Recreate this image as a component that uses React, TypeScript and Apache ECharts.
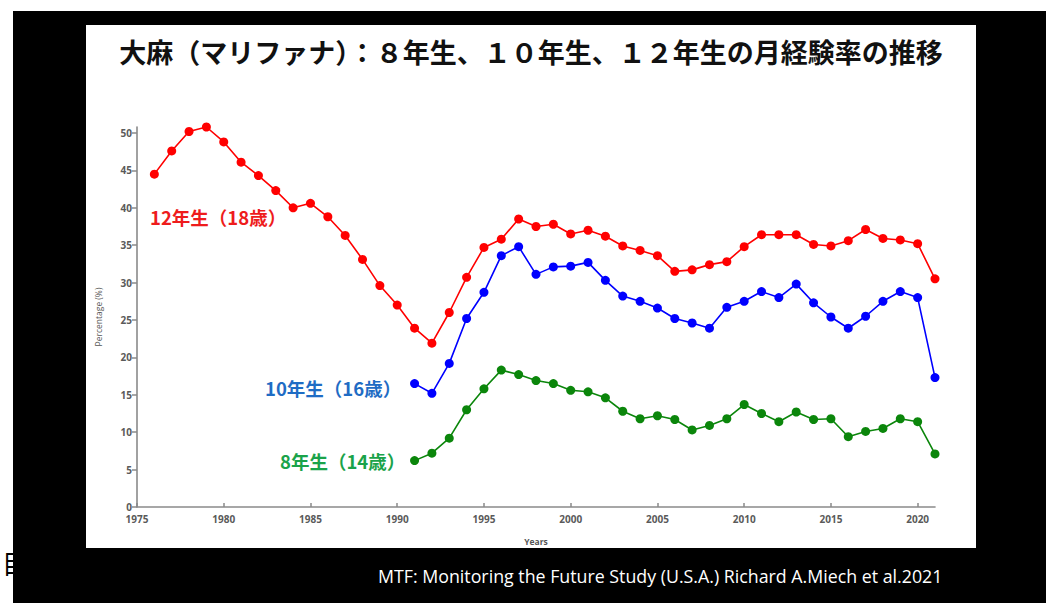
import React, { useEffect, useRef } from "react";
import * as echarts from "echarts";

const yearsG12: number[] = [
  1976, 1977, 1978, 1979, 1980, 1981, 1982, 1983, 1984, 1985, 1986, 1987, 1988, 1989, 1990,
  1991, 1992, 1993, 1994, 1995, 1996, 1997, 1998, 1999, 2000, 2001, 2002, 2003, 2004, 2005,
  2006, 2007, 2008, 2009, 2010, 2011, 2012, 2013, 2014, 2015, 2016, 2017, 2018, 2019, 2020, 2021,
];
const grade12: number[] = [
  44.5, 47.6, 50.2, 50.8, 48.8, 46.1, 44.3, 42.3, 40.0, 40.6, 38.8, 36.3, 33.1, 29.6, 27.0,
  23.9, 21.9, 26.0, 30.7, 34.7, 35.8, 38.5, 37.5, 37.8, 36.5, 37.0, 36.2, 34.9, 34.3, 33.6,
  31.5, 31.7, 32.4, 32.8, 34.8, 36.4, 36.4, 36.4, 35.1, 34.9, 35.6, 37.1, 35.9, 35.7, 35.2, 30.5,
];
const yearsLower: number[] = [
  1991, 1992, 1993, 1994, 1995, 1996, 1997, 1998, 1999, 2000, 2001, 2002, 2003, 2004, 2005,
  2006, 2007, 2008, 2009, 2010, 2011, 2012, 2013, 2014, 2015, 2016, 2017, 2018, 2019, 2020, 2021,
];
const grade10: number[] = [
  16.5, 15.2, 19.2, 25.2, 28.7, 33.6, 34.8, 31.1, 32.1, 32.2, 32.7, 30.3, 28.2, 27.5, 26.6,
  25.2, 24.6, 23.9, 26.7, 27.5, 28.8, 28.0, 29.8, 27.3, 25.4, 23.9, 25.5, 27.5, 28.8, 28.0, 17.3,
];
const grade8: number[] = [
  6.2, 7.2, 9.2, 13.0, 15.8, 18.3, 17.7, 16.9, 16.5, 15.6, 15.4, 14.6, 12.8, 11.8, 12.2,
  11.7, 10.3, 10.9, 11.8, 13.7, 12.5, 11.4, 12.7, 11.7, 11.8, 9.4, 10.1, 10.5, 11.8, 11.4, 7.1,
];
const xTicks: number[] = [1975, 1980, 1985, 1990, 1995, 2000, 2005, 2010, 2015, 2020];
const yTicks: number[] = [0, 5, 10, 15, 20, 25, 30, 35, 40, 45, 50];

const titleText = "大麻（マリファナ）：８年生、１０年生、１２年生の月経験率の推移";
const label12 = "12年生（18歳）";
const label10 = "10年生（16歳）";
const label8 = "8年生（14歳）";
const sourceText = "MTF: Monitoring the Future Study (U.S.A.) Richard A.Miech et al.2021";

const pairs = (xs: number[], ys: number[]) => xs.map((x, i) => [x, ys[i]]);

export default function App() {
  const ref = useRef<HTMLDivElement>(null);
  useEffect(() => {
    if (!ref.current) return;
    const chart = echarts.init(ref.current, undefined, { renderer: "svg" });
    const axisLabelStyle = {
      color: "#5a5a5a",
      fontSize: 10,
      fontWeight: "bold" as const,
      fontFamily: "'Open Sans', 'Noto Sans', sans-serif",
      formatter: (v: number) => String(v),
    };
    const mkSeries = (name: string, data: number[][], color: string) => ({
      name,
      type: "line",
      data,
      symbol: "circle",
      symbolSize: 9,
      lineStyle: { color, width: 1.6 },
      itemStyle: { color },
      z: 5,
    });
    const labelFont = "'Noto Sans CJK JP', sans-serif";
    chart.setOption({
      animation: false,
      backgroundColor: "#ffffff",
      grid: { left: 137, right: 111, top: 127, bottom: 96, containLabel: false },
      xAxis: {
        type: "value",
        min: 1975,
        max: 2021,
        interval: 5,
        name: "Years",
        nameLocation: "middle",
        nameGap: 30,
        nameTextStyle: { color: "#555", fontSize: 8.5, fontWeight: "bold", fontFamily: "'Open Sans', sans-serif" },
        axisLine: { show: true, lineStyle: { color: "#8a8a8a", width: 1.6 } },
        axisTick: { show: true, inside: true, length: 4, customValues: xTicks, lineStyle: { color: "#8a8a8a", width: 1.5 } },
        axisLabel: { ...axisLabelStyle, margin: 7, customValues: xTicks },
        splitLine: { show: false },
      },
      yAxis: {
        type: "value",
        min: 0,
        max: 50.8,
        interval: 5,
        name: "Percentage (%)",
        nameLocation: "middle",
        nameRotate: 90,
        nameGap: 34,
        nameTextStyle: { color: "#555", fontSize: 8.5, fontFamily: "'Open Sans', sans-serif" },
        axisLine: { show: true, lineStyle: { color: "#8a8a8a", width: 1.6 } },
        axisTick: { show: true, inside: false, length: 5, customValues: yTicks, lineStyle: { color: "#8a8a8a", width: 1.5 } },
        axisLabel: { ...axisLabelStyle, margin: 5, customValues: yTicks },
        splitLine: { show: false },
      },
      series: [
        mkSeries("12年生", pairs(yearsG12, grade12), "#ff0000"),
        mkSeries("10年生", pairs(yearsLower, grade10), "#0000ff"),
        mkSeries("8年生", pairs(yearsLower, grade8), "#0b860b"),
      ],
      graphic: [
        { type: "text", z: -30, left: 2, top: 549, style: { text: "目", fill: "#000", fontSize: 26, fontFamily: labelFont } },
        { type: "rect", z: -20, shape: { x: 13, y: 11, width: 1033, height: 592 }, style: { fill: "#000000" } },
        { type: "rect", z: -10, shape: { x: 86, y: 25, width: 890, height: 523 }, style: { fill: "#ffffff" } },
        {
          type: "text", z: 10, x: 531, y: 51,
          style: { text: titleText, fill: "#111", fontSize: 27, fontWeight: "bold", fontFamily: labelFont, align: "center", verticalAlign: "middle" },
        },
        {
          type: "text", z: 10, x: 150, y: 217,
          style: { text: label12, fill: "#ee1c1c", fontSize: 18.5, fontWeight: "bold", fontFamily: labelFont, verticalAlign: "middle" },
        },
        {
          type: "text", z: 10, x: 265, y: 388,
          style: { text: label10, fill: "#1f6cc4", fontSize: 18.5, fontWeight: "bold", fontFamily: labelFont, verticalAlign: "middle" },
        },
        {
          type: "text", z: 10, x: 280, y: 461,
          style: { text: label8, fill: "#1aa34a", fontSize: 18.5, fontWeight: "bold", fontFamily: labelFont, verticalAlign: "middle" },
        },
        {
          type: "text", z: 10, x: 378, y: 576,
          style: { text: sourceText, fill: "#ffffff", fontSize: 17.8, fontFamily: "'Open Sans', 'Noto Sans', sans-serif", verticalAlign: "middle" },
        },
      ],
    });
    return () => chart.dispose();
  }, []);
  return <div ref={ref} style={{ position: "fixed", left: 0, top: 0, width: 1046, height: 603 }} />;
}
